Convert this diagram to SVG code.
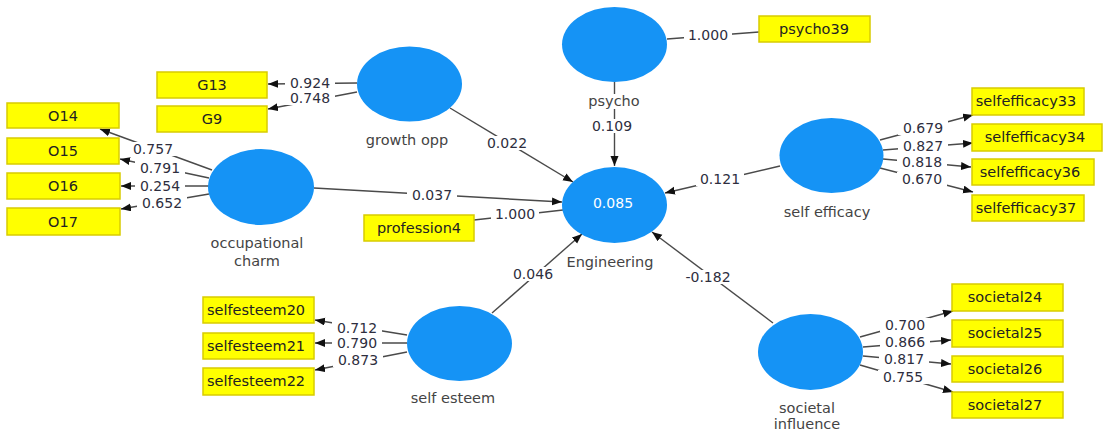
<svg xmlns="http://www.w3.org/2000/svg" width="1104" height="434" viewBox="0 0 1104 434">
<style>
.ln{stroke:#4a4a4a;stroke-width:1.4;fill:none}
.ar{marker-end:url(#ah)}
.lb{fill:#fff}
.num{font-family:"DejaVu Sans",sans-serif;font-size:14px;fill:#2e2e3e;text-anchor:middle}
.box{fill:#ffff00;stroke:#d8cc00;stroke-width:1.5}
.bt{font-family:"DejaVu Sans",sans-serif;font-size:14.5px;fill:#222;text-anchor:middle}
.lv{fill:#1593f5}
.nl{font-family:"DejaVu Sans",sans-serif;font-size:14.5px;fill:#444;text-anchor:middle}
.in{font-family:"DejaVu Sans",sans-serif;font-size:14px;fill:#fff;text-anchor:middle}
</style>
<defs>
<marker id="ah" markerUnits="userSpaceOnUse" markerWidth="11" markerHeight="9" refX="10" refY="4" orient="auto">
<path d="M0,0 L10,4 L0,8 z" fill="#111"/>
</marker>
</defs>
<rect width="1104" height="434" fill="#fff"/>
<g id="connectors">
<line class="ln ar" x1="450" y1="108" x2="573" y2="182"/>
<line class="ln ar" x1="614.5" y1="82" x2="614.5" y2="166"/>
<line class="ln ar" x1="314" y1="188" x2="562" y2="202"/>
<line class="ln" x1="474" y1="220" x2="563" y2="210"/>
<line class="ln ar" x1="780" y1="166" x2="665" y2="193"/>
<line class="ln ar" x1="492" y1="313" x2="582" y2="234"/>
<line class="ln ar" x1="773" y1="323" x2="652" y2="232"/>
<line class="ln" x1="667" y1="39" x2="759" y2="32"/>
<line class="ln ar" x1="357" y1="83" x2="268" y2="84"/>
<line class="ln ar" x1="357" y1="92" x2="268" y2="109"/>
<line class="ln ar" x1="212" y1="170" x2="100" y2="129"/>
<line class="ln ar" x1="209" y1="178" x2="120" y2="159"/>
<line class="ln ar" x1="209" y1="186" x2="121" y2="186"/>
<line class="ln ar" x1="209" y1="194" x2="121" y2="209"/>
<line class="ln ar" x1="880" y1="140" x2="973" y2="115"/>
<line class="ln ar" x1="883" y1="150" x2="973" y2="143"/>
<line class="ln ar" x1="883" y1="159" x2="971" y2="167"/>
<line class="ln ar" x1="880" y1="168" x2="973" y2="192"/>
<line class="ln ar" x1="407" y1="335" x2="315" y2="320"/>
<line class="ln ar" x1="407" y1="343" x2="315" y2="343"/>
<line class="ln ar" x1="407" y1="352" x2="315" y2="370"/>
<line class="ln ar" x1="860" y1="337" x2="953" y2="311"/>
<line class="ln ar" x1="863" y1="347" x2="951" y2="340"/>
<line class="ln ar" x1="863" y1="356" x2="951" y2="364"/>
<line class="ln ar" x1="860" y1="365" x2="953" y2="392"/>
<g>
<rect class="lb" x="484" y="136" width="47" height="14"/><text class="num" x="507" y="148">0.022</text>
<rect class="lb" x="589" y="119" width="46" height="14"/><text class="num" x="612" y="131">0.109</text>
<rect class="lb" x="407" y="188" width="50" height="14"/><text class="num" x="432" y="200">0.037</text>
<rect class="lb" x="491" y="207" width="48" height="14"/><text class="num" x="515" y="219">1.000</text>
<rect class="lb" x="696" y="172" width="48" height="14"/><text class="num" x="720" y="184">0.121</text>
<rect class="lb" x="510" y="267" width="46" height="14"/><text class="num" x="533" y="279">0.046</text>
<rect class="lb" x="682" y="270" width="52" height="14"/><text class="num" x="708" y="282">-0.182</text>
<rect class="lb" x="684" y="28" width="48" height="14"/><text class="num" x="708" y="40">1.000</text>
<rect class="lb" x="285" y="76" width="50" height="14"/><text class="num" x="310" y="88">0.924</text>
<rect class="lb" x="285" y="91" width="50" height="14"/><text class="num" x="310" y="103">0.748</text>
<rect class="lb" x="128" y="142" width="50" height="14"/><text class="num" x="153" y="154">0.757</text>
<rect class="lb" x="135" y="161" width="50" height="14"/><text class="num" x="160" y="173">0.791</text>
<rect class="lb" x="135" y="179" width="50" height="14"/><text class="num" x="160" y="191">0.254</text>
<rect class="lb" x="137" y="196" width="50" height="14"/><text class="num" x="162" y="208">0.652</text>
<rect class="lb" x="898" y="121" width="50" height="14"/><text class="num" x="923" y="133">0.679</text>
<rect class="lb" x="898" y="139" width="50" height="14"/><text class="num" x="923" y="151">0.827</text>
<rect class="lb" x="897" y="155" width="50" height="14"/><text class="num" x="922" y="167">0.818</text>
<rect class="lb" x="897" y="172" width="50" height="14"/><text class="num" x="922" y="184">0.670</text>
<rect class="lb" x="332" y="321" width="50" height="14"/><text class="num" x="357" y="333">0.712</text>
<rect class="lb" x="332" y="336" width="50" height="14"/><text class="num" x="357" y="348">0.790</text>
<rect class="lb" x="333" y="353" width="50" height="14"/><text class="num" x="358" y="365">0.873</text>
<rect class="lb" x="880" y="318" width="50" height="14"/><text class="num" x="905" y="330">0.700</text>
<rect class="lb" x="880" y="335" width="50" height="14"/><text class="num" x="905" y="347">0.866</text>
<rect class="lb" x="879" y="352" width="50" height="14"/><text class="num" x="904" y="364">0.817</text>
<rect class="lb" x="878" y="370" width="50" height="14"/><text class="num" x="903" y="382">0.755</text>
</g>
</g>
<g id="node-growth-opp"><ellipse class="lv" cx="409.5" cy="84" rx="52.5" ry="37.5"/><text class="nl" x="407" y="145">growth opp</text></g>
<g id="node-psycho"><ellipse class="lv" cx="614.5" cy="44.5" rx="52.5" ry="37.5"/><rect class="lb" x="588" y="94" width="52" height="15"/><text class="nl" x="614" y="106">psycho</text></g>
<g id="node-occupational-charm"><ellipse class="lv" cx="261" cy="187" rx="53" ry="38"/><text class="nl" x="257" y="248">occupational</text><text class="nl" x="257" y="266">charm</text></g>
<g id="node-engineering"><ellipse class="lv" cx="614.5" cy="205" rx="52.5" ry="38"/><text class="in" x="613" y="208">0.085</text><text class="nl" x="610" y="267">Engineering</text></g>
<g id="node-self-efficacy"><ellipse class="lv" cx="831.5" cy="155.5" rx="52" ry="37.5"/><text class="nl" x="827" y="217">self efficacy</text></g>
<g id="node-self-esteem"><ellipse class="lv" cx="459.5" cy="343.5" rx="52.5" ry="37.5"/><text class="nl" x="453" y="403">self esteem</text></g>
<g id="node-societal-influence"><ellipse class="lv" cx="810.5" cy="352" rx="52.5" ry="38"/><text class="nl" x="807" y="413">societal</text><text class="nl" x="807" y="429">influence</text></g>
<g id="ind-G13"><rect class="box" x="157" y="72" width="110" height="26"/><text class="bt" x="212" y="90">G13</text></g>
<g id="ind-G9"><rect class="box" x="157" y="106" width="110" height="26"/><text class="bt" x="212" y="124">G9</text></g>
<g id="ind-O14"><rect class="box" x="7" y="103" width="112" height="25"/><text class="bt" x="63" y="121">O14</text></g>
<g id="ind-O15"><rect class="box" x="7" y="138" width="112" height="26"/><text class="bt" x="63" y="156">O15</text></g>
<g id="ind-O16"><rect class="box" x="7" y="173" width="113" height="26"/><text class="bt" x="63" y="191">O16</text></g>
<g id="ind-O17"><rect class="box" x="7" y="208" width="113" height="27"/><text class="bt" x="63" y="227">O17</text></g>
<g id="ind-psycho39"><rect class="box" x="759" y="16" width="111" height="26"/><text class="bt" x="814" y="34">psycho39</text></g>
<g id="ind-selfefficacy33"><rect class="box" x="972" y="88" width="112" height="27"/><text class="bt" x="1026" y="106">selfefficacy33</text></g>
<g id="ind-selfefficacy34"><rect class="box" x="972" y="124" width="130" height="27"/><text class="bt" x="1035" y="142">selfefficacy34</text></g>
<g id="ind-selfefficacy36"><rect class="box" x="972" y="159" width="122" height="26"/><text class="bt" x="1030" y="177">selfefficacy36</text></g>
<g id="ind-selfefficacy37"><rect class="box" x="972" y="195" width="112" height="26"/><text class="bt" x="1026" y="213">selfefficacy37</text></g>
<g id="ind-profession4"><rect class="box" x="364" y="215" width="110" height="26"/><text class="bt" x="419" y="233">profession4</text></g>
<g id="ind-selfesteem20"><rect class="box" x="203" y="297" width="111" height="26"/><text class="bt" x="256" y="315">selfesteem20</text></g>
<g id="ind-selfesteem21"><rect class="box" x="203" y="333" width="111" height="26"/><text class="bt" x="256" y="351">selfesteem21</text></g>
<g id="ind-selfesteem22"><rect class="box" x="203" y="368" width="111" height="27"/><text class="bt" x="256" y="386">selfesteem22</text></g>
<g id="ind-societal24"><rect class="box" x="952" y="284" width="111" height="27"/><text class="bt" x="1005" y="302">societal24</text></g>
<g id="ind-societal25"><rect class="box" x="952" y="320" width="111" height="27"/><text class="bt" x="1005" y="338">societal25</text></g>
<g id="ind-societal26"><rect class="box" x="952" y="356" width="111" height="26"/><text class="bt" x="1005" y="374">societal26</text></g>
<g id="ind-societal27"><rect class="box" x="952" y="392" width="111" height="26"/><text class="bt" x="1005" y="410">societal27</text></g>
</svg>
